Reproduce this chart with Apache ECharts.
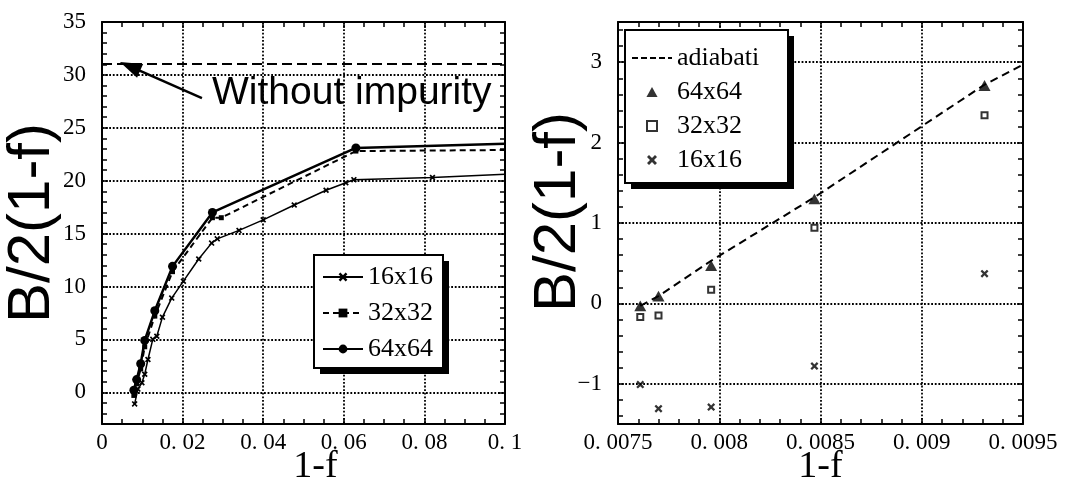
<!DOCTYPE html>
<html><head><meta charset="utf-8">
<script src="https://cdn.jsdelivr.net/npm/echarts@6/dist/echarts.min.js"></script>
<style>
html,body{margin:0;padding:0;background:#fff;}
#wrap{position:relative;width:1065px;height:490px;overflow:hidden;background:#fff;}
#left{position:absolute;left:0;top:0;width:540px;height:490px;}
#right{position:absolute;left:480px;top:0;width:585px;height:490px;}
</style></head>
<body><div id="wrap"><div id="left"></div><div id="right"></div></div>
<script>
// ---------- Left panel data: B/2(1-f) vs 1-f ----------
const leftX16 = [0.0081, 0.0089, 0.0099, 0.0106, 0.0114, 0.0126, 0.0136, 0.0150, 0.0173, 0.0202, 0.0240, 0.0272, 0.0286, 0.0340, 0.0400, 0.0477, 0.0556, 0.0605, 0.0625, 0.0820, 0.1000];
const leftY16 = [-1.1, 0.3, 0.9, 1.7, 3.1, 5.0, 5.3, 7.1, 8.9, 10.5, 12.6, 14.1, 14.5, 15.3, 16.3, 17.7, 19.1, 19.8, 20.1, 20.3, 20.6];
const leftX32 = [0.0079, 0.0086, 0.0096, 0.0106, 0.0131, 0.0175, 0.0274, 0.0296, 0.0630, 0.1000];
const leftY32 = [-0.3, 0.8, 2.2, 4.3, 7.2, 11.4, 16.5, 16.5, 22.8, 22.9];
const leftX64 = [0.0079, 0.0086, 0.0096, 0.0106, 0.0131, 0.0175, 0.0274, 0.0630, 0.1000];
const leftY64 = [0.2, 1.2, 2.7, 4.9, 7.7, 11.9, 17.0, 23.1, 23.5];
const leftNames = ['16x16', '32x32', '64x64'];
const withoutImpurity = 31.1;
const arrowFrom = [0.0248, 27.8];
const arrowTo = [0.00695, 30.8];
const annotationText = 'Without impurity';

// ---------- Right panel data ----------
const rightX = [0.00761, 0.00770, 0.00796, 0.00847, 0.00931];
const rightY64 = [-0.03, 0.09, 0.47, 1.30, 2.71];
const rightY32 = [-0.17, -0.15, 0.17, 0.94, 2.34];
const rightY16 = [-1.01, -1.31, -1.29, -0.78, 0.37];
const adiabaticX = [0.00761, 0.00770, 0.00796, 0.00847, 0.00931, 0.00950];
const adiabaticY = [-0.03, 0.09, 0.53, 1.32, 2.72, 2.97];
const rightNames = ['adiabatic', '64x64', '32x32', '16x16'];

const axisTitleY = 'B/2(1-f)';
const axisTitleX = '1-f';

// ---------- helpers ----------
const SERIF = '"Liberation Serif", "DejaVu Serif", serif';
const SANS = '"Liberation Sans", Arial, sans-serif';
const BLACK = '#000';
const CROSS = 'path://M0,2L2,0L5,3L8,0L10,2L7,5L10,8L8,10L5,7L2,10L0,8L3,5Z';
const TRI = 'path://M5,0L10,9L0,9Z';
const SQUARE = 'path://M0,0L10,0L10,10L0,10Z';
const DASHES = 'path://M0,0H6V2H0Z M9,0H15V2H9Z M18,0H24V2H18Z M27,0H33V2H27Z M36,0H40V2H36Z';

function zip(xs, ys, lastNoSymbol) {
  return xs.map((x, i) => (lastNoSymbol && i === xs.length - 1) ? { value: [x, ys[i]], symbol: 'none' } : [x, ys[i]]);
}
function fmtX(v) {
  if (Math.abs(v) < 1e-12) return '0';
  return String(parseFloat(v.toPrecision(6))).replace('0.', '0. ');
}
function fmtY(v) {
  const r = Math.round(v);
  return r < 0 ? '\u2212' + Math.abs(r) : String(r);
}
function baseAxis(extra) {
  return Object.assign({
    type: 'value',
    axisLine: { show: true, onZero: false, lineStyle: { color: BLACK, width: 2 } },
    axisTick: { show: true, inside: true, length: 6, lineStyle: { color: BLACK, width: 1.5 } },
    minorTick: { show: true, length: 5, lineStyle: { color: BLACK, width: 1.5 } },
    splitLine: { show: false },
    nameMoveOverlap: false
  }, extra);
}
const gridLine = { show: true, lineStyle: { color: BLACK, width: 1.8, type: [1.8, 1.8] } };
const labelStyle = { color: BLACK, fontFamily: SERIF, fontSize: 23 };

function makeAxes(xr, yr) {
  const minor = (n) => Object.assign({}, baseAxis({}).minorTick, { splitNumber: n });
  const xMain = baseAxis({
    position: 'bottom', min: xr.min, max: xr.max, interval: xr.interval,
    minorTick: minor(xr.minor),
    splitLine: gridLine,
    axisLabel: Object.assign({ margin: 7, formatter: fmtX }, labelStyle),
    name: axisTitleX, nameLocation: 'middle', nameGap: xr.nameGap,
    nameTextStyle: { color: BLACK, fontFamily: SERIF, fontSize: 38, padding: xr.namePad }
  });
  const xTop = baseAxis({
    position: 'top', min: xr.min, max: xr.max, interval: xr.interval,
    minorTick: minor(xr.minor),
    axisLabel: { show: false }
  });
  const yMain = baseAxis({
    position: 'left', min: yr.min, max: yr.max, splitNumber: yr.split,
    minorTick: minor(5),
    splitLine: gridLine,
    axisLabel: Object.assign({ margin: 16, formatter: fmtY, showMinLabel: false, showMaxLabel: yr.showMax }, labelStyle),
    name: axisTitleY, nameLocation: 'middle', nameRotate: 90, nameGap: yr.nameGap,
    nameTextStyle: { color: BLACK, fontFamily: SANS, fontSize: 60, padding: yr.namePad }
  });
  const yRight = baseAxis({
    position: 'right', min: yr.min, max: yr.max, splitNumber: yr.split,
    minorTick: minor(5),
    axisLabel: { show: false }
  });
  return { xAxis: [xMain, xTop], yAxis: [yMain, yRight] };
}

// legend box (white panel with black border and a hard drop shadow) drawn behind the legend
function legendPanel(x, y, w, h) {
  return [
    { type: 'rect', z: 18, silent: true, shape: { x: x + 6, y: y + 6, width: w, height: h }, style: { fill: BLACK } },
    { type: 'rect', z: 19, silent: true, shape: { x: x, y: y, width: w, height: h }, style: { fill: '#fff', stroke: BLACK, lineWidth: 2 } }
  ];
}
function legendBase(extra) {
  return Object.assign({
    orient: 'vertical', selectedMode: false, symbolKeepAspect: true,
    backgroundColor: 'transparent', borderWidth: 0,
    itemWidth: 40, itemHeight: 11,
    textStyle: { color: BLACK, fontFamily: SERIF, fontSize: 26, lineHeight: 26 },
    z: 20
  }, extra);
}

// ---------- Left chart ----------
const leftAxes = makeAxes(
  { min: 0, max: 0.1, interval: 0.02, minor: 4, nameGap: 24, namePad: [0, 0, 0, 24] },
  { min: -3, max: 35, split: 8, showMax: true, nameGap: 40, namePad: [0, 0, 0, 0] }
);
const leftOption = {
  animation: false,
  backgroundColor: '#fff',
  grid: { left: 102, right: 35, top: 22, bottom: 66, containLabel: false, outerBoundsMode: 'none' },
  xAxis: leftAxes.xAxis,
  yAxis: leftAxes.yAxis,
  legend: legendBase({ data: leftNames, left: 314, top: 255, itemGap: 10, padding: [9, 12, 7, 8] }),
  graphic: legendPanel(314, 255, 129, 113).concat([{
    type: 'text', z: 10,
    style: { x: 212, y: 93, text: annotationText, fill: BLACK, fontFamily: SANS, fontSize: 39, align: 'left', verticalAlign: 'middle' }
  }]),
  series: [
    {
      name: leftNames[0], type: 'line', data: zip(leftX16, leftY16, true),
      symbol: CROSS, symbolSize: 6, showAllSymbol: true,
      lineStyle: { color: BLACK, width: 1.5 }, itemStyle: { color: BLACK }, z: 3
    },
    {
      name: leftNames[1], type: 'line', data: zip(leftX32, leftY32, true),
      symbol: 'rect', symbolSize: 5, showAllSymbol: true,
      lineStyle: { color: BLACK, width: 2, type: [6, 4] }, itemStyle: { color: BLACK }, z: 4
    },
    {
      name: leftNames[2], type: 'line', data: zip(leftX64, leftY64, true),
      symbol: 'circle', symbolSize: 9, showAllSymbol: true,
      lineStyle: { color: BLACK, width: 2.5 }, itemStyle: { color: BLACK }, z: 5
    },
    {
      name: 'annotation', type: 'line', data: [], silent: true,
      markLine: {
        silent: true, animation: false, symbol: ['none', 'none'], label: { show: false },
        data: [
          { yAxis: withoutImpurity, lineStyle: { color: BLACK, width: 2, type: [10, 5] } },
          [
            { coord: arrowFrom, symbol: 'none', lineStyle: { color: BLACK, width: 2.5, type: 'solid' } },
            { coord: arrowTo, symbol: 'triangle', symbolSize: [15, 22] }
          ]
        ]
      }
    }
  ]
};

// ---------- Right chart (its div overlaps the left one, transparent background) ----------
const rightAxes = makeAxes(
  { min: 0.0075, max: 0.0095, interval: 0.0005, minor: 5, nameGap: 24, namePad: [0, 0, 0, 0] },
  { min: -1.5, max: 3.5, split: 5, showMax: false, nameGap: 30, namePad: [0, 0, 0, 22] }
);
const rightOption = {
  animation: false,
  backgroundColor: 'transparent',
  grid: { left: 138, right: 42, top: 22, bottom: 66, containLabel: false, outerBoundsMode: 'none' },
  xAxis: rightAxes.xAxis,
  yAxis: rightAxes.yAxis,
  legend: legendBase({
    data: [
      { name: rightNames[0], icon: DASHES, textStyle: { width: 88, overflow: 'truncate', ellipsis: '' } },
      rightNames[1], rightNames[2], rightNames[3]
    ],
    left: 145, top: 30, itemGap: 8, itemHeight: 10, padding: [15, 20, 12, 7]
  }),
  graphic: legendPanel(145, 30, 163, 153),
  series: [
    {
      name: rightNames[0], type: 'line', data: zip(adiabaticX, adiabaticY, false),
      symbol: 'none', lineStyle: { color: BLACK, width: 2, type: [8, 5] }, itemStyle: { color: BLACK }, z: 3
    },
    {
      name: rightNames[1], type: 'scatter', data: zip(rightX, rightY64, false),
      symbol: TRI, symbolSize: 12, symbolKeepAspect: true, itemStyle: { color: BLACK }, z: 4
    },
    {
      name: rightNames[2], type: 'scatter', data: zip(rightX, rightY32, false),
      symbol: SQUARE, symbolSize: 6, itemStyle: { color: '#fff', borderColor: BLACK, borderWidth: 2 }, z: 4
    },
    {
      name: rightNames[3], type: 'scatter', data: zip(rightX, rightY16, false),
      symbol: CROSS, symbolSize: 8, itemStyle: { color: BLACK }, z: 4
    }
  ]
};

echarts.init(document.getElementById('left'), null, { renderer: 'canvas' }).setOption(leftOption);
echarts.init(document.getElementById('right'), null, { renderer: 'canvas' }).setOption(rightOption);
</script>
</body></html>
